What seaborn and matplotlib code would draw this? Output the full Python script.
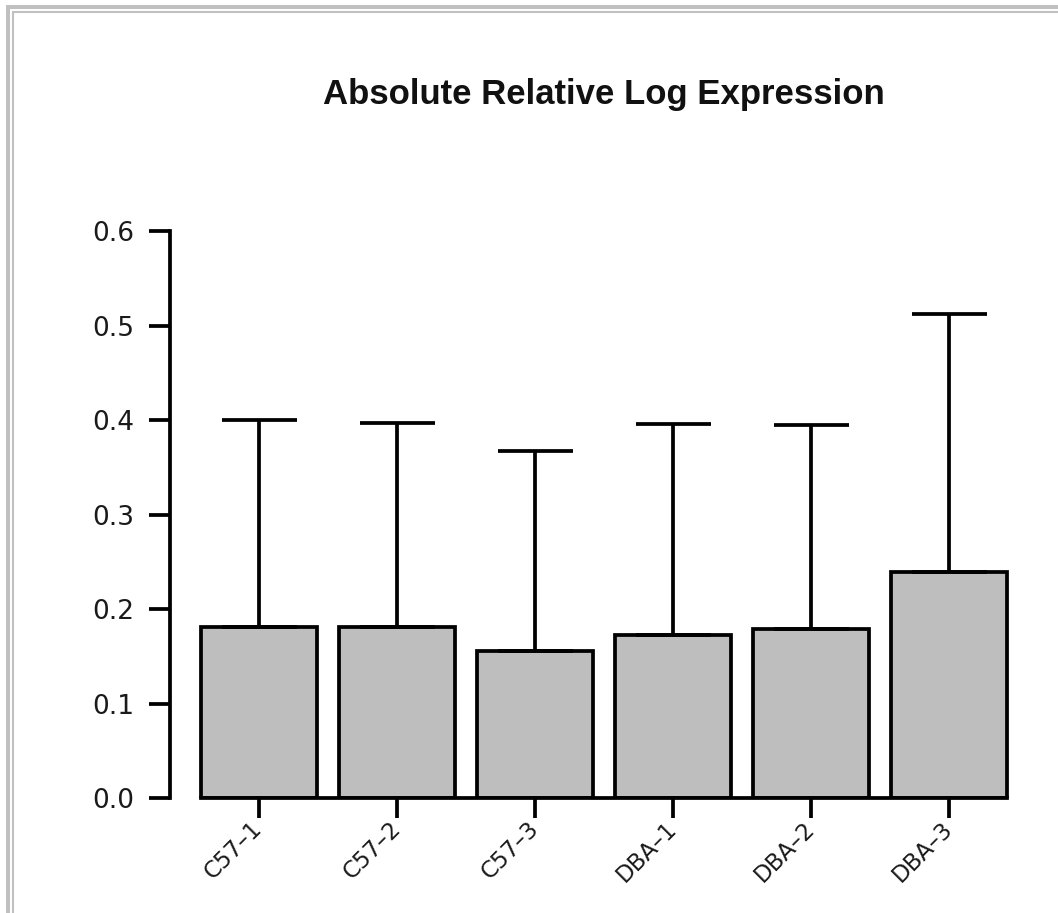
import matplotlib
matplotlib.use("Agg")
import matplotlib.pyplot as plt
from matplotlib.lines import Line2D
import seaborn as sns
import pandas as pd

# Per-array summary: mean absolute relative log expression and upper whisker
samples = ["C57–1", "C57–2", "C57–3", "DBA–1", "DBA–2", "DBA–3"]
mean_rle = [0.181, 0.181, 0.156, 0.172, 0.179, 0.239]
upper_rle = [0.400, 0.397, 0.367, 0.396, 0.395, 0.512]
y_ticks = [0.0, 0.1, 0.2, 0.3, 0.4, 0.5, 0.6]

df = pd.DataFrame({"sample": samples, "rle": mean_rle})

sns.set_theme(style="white")
plt.rcParams["font.family"] = ["DejaVu Sans"]

W, H, DPI = 1058, 913, 100
fig = plt.figure(figsize=(W / DPI, H / DPI), dpi=DPI)
fig.patch.set_facecolor("white")

# axes placed in pixel terms: y spine at x=170, y=0 at 798 px from top
ax_left, ax_right = 170, 1030
ax_top, ax_bottom = 231, 798
ax = fig.add_axes([ax_left / W, (H - ax_bottom) / H,
                   (ax_right - ax_left) / W, (ax_bottom - ax_top) / H])

lw = 2.7
bar_width = 0.84
sns.barplot(data=df, x="sample", y="rle", ax=ax, color="#bebebe",
            width=bar_width, saturation=1, errorbar=None,
            edgecolor="black", linewidth=lw)
for p in ax.patches:
    p.set_facecolor("#bebebe")

# upper-only whiskers from bar top to the upper value
pos = list(range(len(samples)))
upper_err = [u - m for u, m in zip(upper_rle, mean_rle)]
ax.errorbar(pos, mean_rle, yerr=[[0] * len(pos), upper_err], fmt="none",
            ecolor="black", elinewidth=lw, capsize=27, capthick=lw,
            zorder=1)

ax.set_ylim(0, 0.6)
ax.set_xlim(-0.645, 5.587)
ax.set_yticks(y_ticks)
ax.set_yticklabels([f"{t:.1f}" for t in y_ticks])
ax.set_xlabel("")
ax.set_ylabel("")

for s in ["top", "right"]:
    ax.spines[s].set_visible(False)
for s in ["left", "bottom"]:
    ax.spines[s].set_visible(True)
    ax.spines[s].set_color("black")
    ax.spines[s].set_linewidth(lw)
ax.spines["left"].set_bounds(0, 0.6)
ax.spines["bottom"].set_bounds(-bar_width / 2, len(samples) - 1 + bar_width / 2)
ax.set_facecolor("white")
ax.grid(False)

ax.tick_params(axis="y", direction="out", length=15, width=lw, color="black",
               labelsize=19, pad=11, labelcolor="#1a1a1a", left=True)
ax.tick_params(axis="x", direction="out", length=14.4, width=lw, color="black",
               labelsize=16.5, pad=5, labelcolor="#1a1a1a", bottom=True)
for lab in ax.get_xticklabels():
    lab.set_rotation(45)
    lab.set_ha("right")
    lab.set_va("center")
    lab.set_rotation_mode("anchor")

fig.text(604 / W, 1 - 104 / H, "Absolute Relative Log Expression",
         ha="center", va="baseline", fontsize=25, fontweight="bold",
         family=["Liberation Sans", "DejaVu Sans"], color="#111111")

# double grey frame along the top and left edges
frame = "#c0c0c0"
fig.add_artist(Line2D([6 / W, 1], [1 - 7 / H, 1 - 7 / H], color=frame,
                      lw=2.9, transform=fig.transFigure, solid_capstyle="butt"))
fig.add_artist(Line2D([12 / W, 1], [1 - 12 / H, 1 - 12 / H], color=frame,
                      lw=1.5, transform=fig.transFigure, solid_capstyle="butt"))
fig.add_artist(Line2D([8 / W, 8 / W], [0, 1 - 5 / H], color=frame,
                      lw=2.9, transform=fig.transFigure, solid_capstyle="butt"))
fig.add_artist(Line2D([13 / W, 13 / W], [0, 1 - 11 / H], color=frame,
                      lw=1.5, transform=fig.transFigure, solid_capstyle="butt"))

fig.savefig("out.png", dpi=DPI)
